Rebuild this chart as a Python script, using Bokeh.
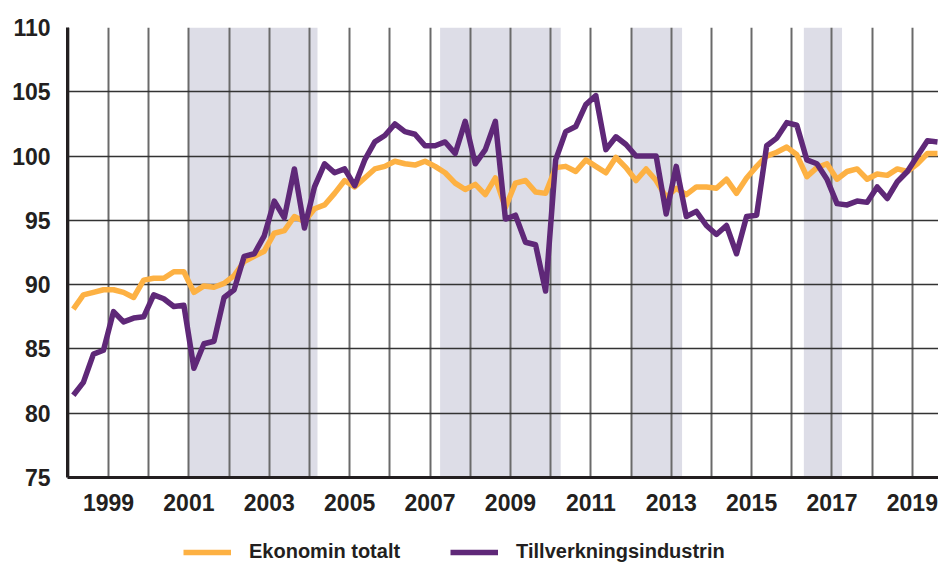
from bokeh.plotting import figure
from bokeh.layouts import column
from bokeh.models import Range1d, FixedTicker, BoxAnnotation, Legend, LegendItem
from bokeh.embed import file_html
from bokeh.resources import INLINE

# ---- data (quarterly, 1998 Q1 .. 2019 Q3) ----
start_year = 1998
ekonomin_totalt = [
    88.1, 89.2, 89.4, 89.6, 89.6, 89.4, 89.0, 90.35, 90.5, 90.5, 91.0, 91.0,
    89.4, 89.9, 89.8, 90.1, 90.7, 91.8, 92.2, 92.6, 94.0, 94.2, 95.3, 94.9,
    95.9, 96.2, 97.1, 98.1, 97.6, 98.3, 99.0, 99.2, 99.6, 99.4, 99.3, 99.6,
    99.2, 98.7, 97.9, 97.4, 97.8, 97.0, 98.3, 96.0, 97.9, 98.1, 97.2, 97.1,
    99.1, 99.2, 98.8, 99.7, 99.2, 98.7, 99.9, 99.1, 98.1, 99.0, 98.1, 96.8,
    97.5, 97.0, 97.6, 97.6, 97.5, 98.2, 97.1, 98.3, 99.2, 100.0, 100.3, 100.7,
    100.1, 98.4, 99.1, 99.4, 98.2, 98.8, 99.0, 98.2, 98.6, 98.5, 99.0, 98.8,
    99.4, 100.2, 100.2,
]
tillverkningsindustrin = [
    81.4, 82.4, 84.6, 84.9, 87.9, 87.1, 87.4, 87.5, 89.2, 88.9, 88.3, 88.4,
    83.5, 85.4, 85.6, 89.0, 89.6, 92.2, 92.4, 93.8, 96.5, 95.2, 99.0, 94.4,
    97.6, 99.4, 98.7, 99.0, 97.7, 99.7, 101.1, 101.6, 102.5, 101.9, 101.7, 100.8,
    100.8, 101.1, 100.2, 102.7, 99.4, 100.5, 102.7, 95.1, 95.4, 93.3, 93.1, 89.5,
    99.7, 101.9, 102.3, 104.0, 104.7, 100.5, 101.5, 100.9, 100.0, 100.0, 100.0, 95.5,
    99.2, 95.3, 95.7, 94.6, 93.9, 94.6, 92.4, 95.3, 95.4, 100.8, 101.4, 102.6,
    102.4, 99.7, 99.4, 98.2, 96.3, 96.2, 96.5, 96.4, 97.6, 96.7, 98.0, 98.8,
    100.0, 101.2, 101.1,
]
shade_start = [2001.0, 2007.25, 2012.0, 2016.3]
shade_end = [2004.2, 2010.25, 2013.27, 2017.25]
y_ticks = [75, 80, 85, 90, 95, 100, 105, 110]
year_ticks = list(range(1998, 2020))
year_labels = {y: (str(y) if y % 2 == 1 else "") for y in year_ticks}
series_names = ["Ekonomin totalt", "Tillverkningsindustrin"]

ORANGE = "#fdb143"
PURPLE = "#5f2878"
SHADE = "#dddde7"
TEXT = "#231f20"
LW = 5.5

x = [start_year + (i + 0.5) / 4 for i in range(len(ekonomin_totalt))]

p = figure(width=938, height=518, output_backend="svg", toolbar_location=None,
           x_range=Range1d(1997.98, 2019.65), y_range=Range1d(75, 110),
           min_border_left=67, min_border_top=27, min_border_right=0,
           min_border_bottom=41)
p.outline_line_color = None
p.background_fill_color = "white"

for s, e in zip(shade_start, shade_end):
    p.add_layout(BoxAnnotation(left=s, right=e, fill_color=SHADE, fill_alpha=1.0,
                               line_color=None, level="image"))

p.xaxis.ticker = FixedTicker(ticks=year_ticks)
p.xaxis.major_label_overrides = year_labels
p.yaxis.ticker = FixedTicker(ticks=y_ticks)
p.xgrid.ticker = FixedTicker(ticks=year_ticks)
p.ygrid.ticker = FixedTicker(ticks=y_ticks)
p.xgrid.grid_line_color = "#6a6a6a"
p.xgrid.grid_line_width = 2
p.ygrid.grid_line_color = "#333333"
p.ygrid.grid_line_width = 1.6

for ax in (p.xaxis[0], p.yaxis[0]):
    ax.axis_line_color = TEXT
    ax.axis_line_width = 3
    ax.major_tick_line_color = None
    ax.minor_tick_line_color = None
    ax.major_label_text_font = "Liberation Sans"
    ax.major_label_text_font_style = "bold"
    ax.major_label_text_font_size = "23px"
    ax.major_label_text_color = TEXT
p.yaxis.major_label_standoff = 11
p.xaxis.major_label_standoff = 10

p.line(x, ekonomin_totalt, line_color=ORANGE, line_width=LW, line_join="round")
p.line(x, tillverkningsindustrin, line_color=PURPLE, line_width=LW, line_join="round")

# ---- legend strip below the chart (its own ranges keep the key lines off-view) ----
leg = figure(width=938, height=45, output_backend="svg", toolbar_location=None,
             x_range=Range1d(0, 1), y_range=Range1d(0, 1),
             x_axis_type=None, y_axis_type=None, min_border=0)
leg.outline_line_color = None
leg.grid.visible = False
k1 = leg.line(x, ekonomin_totalt, line_color=ORANGE, line_width=LW)
k2 = leg.line(x, tillverkningsindustrin, line_color=PURPLE, line_width=LW)
legend = Legend(items=[LegendItem(label=series_names[0], renderers=[k1]),
                       LegendItem(label=series_names[1], renderers=[k2])],
                orientation="horizontal", location=(116, 0),
                label_text_font="Liberation Sans", label_text_font_style="bold",
                label_text_font_size="20px", label_text_color=TEXT,
                glyph_width=48, glyph_height=20, label_standoff=18, spacing=50,
                padding=0, margin=0, border_line_color=None, background_fill_alpha=0)
leg.add_layout(legend, "center")

open("out.html", "w").write(file_html(column(p, leg, spacing=0), INLINE))
